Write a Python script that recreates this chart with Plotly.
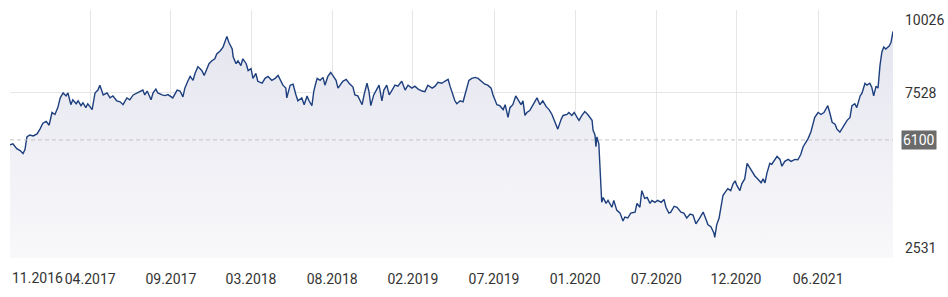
import pandas as pd
import plotly.graph_objects as go

start_date = "2016-11-01"
days = [0, 6, 14, 21, 27, 31, 35, 41, 48, 56, 62, 68, 75, 81, 87, 93, 99, 104, 110, 116,
        120, 126, 130, 137, 141, 147, 151, 157, 161, 170, 176, 182, 186, 193, 201, 207, 213, 221, 228, 234,
        242, 248, 255, 263, 269, 275, 279, 284, 292, 296, 302, 306, 315, 321, 327, 333, 337, 346, 352, 358,
        362, 368, 373, 379, 383, 389, 397, 402, 408, 412, 418, 424, 428, 435, 441, 445, 449, 453, 460, 462,
        468, 472, 478, 482, 489, 493, 499, 503, 509, 513, 522, 528, 534, 542, 549, 555, 561, 565, 571, 573,
        580, 586, 592, 596, 604, 609, 615, 619, 625, 629, 633, 636, 642, 648, 652, 658, 664, 669, 675, 679,
        685, 689, 696, 702, 710, 714, 720, 729, 733, 739, 743, 747, 753, 760, 764, 770, 774, 780, 785, 791,
        797, 803, 811, 818, 824, 832, 838, 845, 853, 859, 865, 874, 880, 886, 894, 900, 907, 911, 917, 921,
        925, 932, 938, 942, 946, 950, 956, 963, 969, 977, 983, 989, 996, 1000, 1004, 1008, 1014, 1021, 1025, 1031,
        1035, 1041, 1047, 1052, 1058, 1062, 1066, 1070, 1076, 1083, 1087, 1091, 1097, 1103, 1110, 1116, 1122, 1128, 1134, 1141,
        1145, 1153, 1157, 1163, 1168, 1174, 1178, 1184, 1190, 1196, 1205, 1207, 1211, 1213, 1215, 1219, 1221, 1225, 1228, 1234,
        1238, 1246, 1250, 1256, 1263, 1269, 1273, 1279, 1285, 1294, 1298, 1304, 1308, 1314, 1319, 1325, 1329, 1335, 1341, 1348,
        1354, 1358, 1364, 1368, 1375, 1381, 1389, 1395, 1401, 1408, 1414, 1420, 1428, 1435, 1439, 1445, 1451, 1457, 1459, 1463,
        1468, 1472, 1476, 1480, 1486, 1492, 1497, 1501, 1505, 1511, 1515, 1521, 1526, 1532, 1536, 1542, 1548, 1555, 1559, 1563,
        1567, 1573, 1577, 1584, 1588, 1594, 1598, 1604, 1611, 1617, 1625, 1631, 1637, 1642, 1646, 1652, 1658, 1662, 1666, 1673,
        1679, 1685, 1689, 1693, 1697, 1702, 1708, 1712, 1718, 1722, 1728, 1733, 1739, 1743, 1749, 1753, 1760, 1764, 1770, 1774,
        1780, 1784, 1788, 1793, 1797, 1801, 1805, 1809, 1813, 1820, 1824, 1828]
values = [5954, 5983, 5836, 5777, 5688, 5806, 6190, 6249, 6220, 6279, 6426, 6603, 6662, 6544, 6928, 6869, 7075, 7370, 7518, 7429,
          7518, 7164, 7311, 7193, 7282, 7134, 7223, 7075, 7193, 7016, 7518, 7606, 7754, 7459, 7518, 7370, 7429, 7282, 7252, 7164,
          7370, 7311, 7459, 7518, 7577, 7606, 7459, 7577, 7311, 7518, 7636, 7518, 7459, 7440, 7470, 7400, 7370, 7606, 7577, 7400,
          7665, 7872, 8019, 7901, 8108, 8315, 8197, 8049, 8256, 8403, 8492, 8551, 8698, 8787, 8905, 9082, 9229, 9052, 8846, 8610,
          8403, 8492, 8344, 8551, 8403, 8197, 8256, 7960, 8108, 7872, 7813, 7960, 8019, 7901, 7960, 8049, 7872, 7754, 7665, 7370,
          7754, 7783, 7459, 7282, 7370, 7164, 7429, 7282, 7134, 7577, 7813, 7960, 7901, 7990, 7754, 8019, 8138, 8019, 7901, 7665,
          7813, 7872, 7931, 7813, 7695, 7459, 7429, 7164, 7459, 7813, 7577, 7134, 7459, 7665, 7754, 7282, 7606, 7754, 7459, 7606,
          7754, 7724, 7872, 7606, 7754, 7665, 7724, 7636, 7577, 7560, 7754, 7665, 7724, 7842, 7813, 7872, 7931, 7724, 7429, 7282,
          7193, 7282, 7252, 7459, 7665, 7901, 7960, 7990, 7960, 7872, 7783, 7754, 7665, 7459, 7282, 7164, 7134, 7016, 7164, 6780,
          7075, 7164, 7429, 7311, 7164, 7282, 6839, 6928, 6987, 7164, 7282, 7370, 7164, 7282, 7105, 7016, 6869, 6633, 6426, 6721,
          6839, 6869, 6928, 6839, 6928, 6780, 6692, 6839, 6957, 6869, 6692, 6397, 6249, 5895, 6190, 5983, 5216, 4213, 4360, 4183,
          4272, 4065, 4272, 3977, 3888, 3652, 3770, 3740, 3888, 3918, 4183, 4065, 4567, 4331, 4360, 4183, 4272, 4213, 4272, 4213,
          4301, 4065, 3888, 3918, 4095, 4065, 3918, 3888, 3741, 3859, 3829, 3564, 3741, 3918, 3770, 3534, 3475, 3298, 3151, 3534,
          3741, 4124, 4420, 4508, 4626, 4567, 4774, 4862, 4715, 4567, 4774, 4921, 5393, 5246, 5157, 5010, 4921, 4803, 4921, 4803,
          5098, 5393, 5364, 5511, 5600, 5511, 5305, 5452, 5511, 5452, 5511, 5500, 5659, 5895, 5983, 6131, 6338, 6544, 6780, 6928,
          6869, 6928, 7016, 7134, 6928, 6633, 6574, 6426, 6338, 6426, 6544, 6692, 6780, 7134, 7193, 7075, 7429, 7518, 7813, 7754,
          7813, 7695, 7429, 7724, 7665, 8344, 8757, 8905, 8846, 8934, 9052, 9377]

tick_dates = ["2016-11-01", "2017-04-16", "2017-09-30", "2018-03-15", "2018-08-30", "2019-02-13",
              "2019-07-31", "2020-01-15", "2020-07-01", "2020-12-13", "2021-06-01"]
tick_labels = ["", "04.2017", "09.2017", "03.2018", "08.2018", "02.2019",
               "07.2019", "01.2020", "07.2020", "12.2020", "06.2021"]
first_label = "11.2016"
y_ticks = [2531, 7528, 10026]
ref_level = 6100

dates = pd.Timestamp(start_date) + pd.to_timedelta(days, unit="D")

fig = go.Figure()
fig.add_trace(go.Scatter(
    x=dates, y=values, mode="lines",
    line=dict(color="#1d3f7e", width=1.4),
    fill="tozeroy",
    fillgradient=dict(type="vertical", start=y_ticks[0], stop=max(values),
                      colorscale=[[0, "#f9f9fb"], [1, "#e5e5ef"]]),
    hoverinfo="skip", showlegend=False,
))

fig.add_shape(type="line", xref="paper", x0=0, x1=1, yref="y", y0=ref_level, y1=ref_level,
              line=dict(color="#c4c4c4", width=1, dash="4px,3px"))

font = dict(family="Roboto", size=14, color="#333333")
fig.add_annotation(xref="paper", x=1, xshift=10, y=y_ticks[2], yanchor="top", xanchor="left",
                   text=str(y_ticks[2]), showarrow=False, font=font)
fig.add_annotation(xref="paper", x=1, xshift=10, y=y_ticks[1], yanchor="middle", xanchor="left",
                   text=str(y_ticks[1]), showarrow=False, font=font)
fig.add_annotation(xref="paper", x=1, xshift=10, y=y_ticks[0], yanchor="bottom", xanchor="left",
                   text=str(y_ticks[0]), showarrow=False, font=font)
fig.add_annotation(xref="paper", x=1, xshift=8, y=ref_level, yanchor="middle", xanchor="left",
                   text=str(ref_level), showarrow=False, bgcolor="#6b6b6b", borderpad=1,
                   font=dict(family="Roboto", size=14, color="#ffffff"))
fig.add_annotation(xref="x", x=dates[0], yref="paper", y=0, yshift=-10, xanchor="left", yanchor="top",
                   text=first_label, showarrow=False, font=font)

fig.update_layout(
    width=948, height=297,
    margin=dict(l=10, r=55, t=10, b=33),
    paper_bgcolor="white", plot_bgcolor="white",
    font=font,
    xaxis=dict(range=[dates[0], dates[-1]], tickvals=pd.to_datetime(tick_dates), ticktext=tick_labels,
               showgrid=True, gridcolor="#e6e6e6", gridwidth=1, zeroline=False, showline=False,
               ticks="", tickfont=font, ticklabelstandoff=11),
    yaxis=dict(range=[y_ticks[0], y_ticks[2]], tickvals=y_ticks, showticklabels=False,
               showgrid=True, gridcolor="#e6e6e6", gridwidth=1, zeroline=False, side="right"),
)

fig.write_html("out.html")
